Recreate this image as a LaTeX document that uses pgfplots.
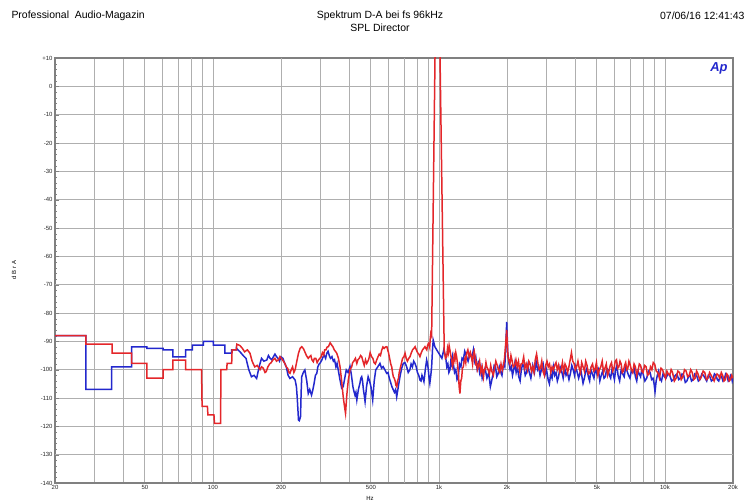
\documentclass[border=0pt]{standalone}
\usepackage{fontspec}
\setmainfont{Liberation Sans}
\usepackage{pgfplots}
\pgfplotsset{compat=1.18}
\definecolor{apred}{RGB}{228,38,42}
\definecolor{apblue}{RGB}{35,40,205}
\definecolor{gridgray}{RGB}{175,175,175}
\definecolor{darkgrid}{RGB}{85,85,85}
\begin{document}
\begin{tikzpicture}
\path[use as bounding box] (-55bp,-20bp) rectangle (694bp,483bp);
\begin{axis}[at={(0,0)}, anchor=south west, scale only axis,
 width=678bp, height=425bp,
 xmode=log, xmin=20, xmax=20000, ymin=-140, ymax=10,
 xtick={20,50,100,200,500,1000,2000,5000,10000,20000},
 xticklabels={20,50,100,200,500,1k,2k,5k,10k,20k},
 minor xtick={30,40,60,70,80,90,300,400,600,700,800,900,3000,4000,6000,7000,8000,9000},
 ytick={-140,-130,...,10},
 yticklabels={-140,-130,-120,-110,-100,-90,-80,-70,-60,-50,-40,-30,-20,-10,0,+10},
 minor y tick num=4,
 xmajorgrids=true, xminorgrids=true, ymajorgrids=true,
 major grid style={gridgray, line width=0.9bp},
 minor grid style={gridgray, line width=0.9bp},
 extra x ticks={80,200,700,4000,7000},
 extra x tick labels={},
 extra x tick style={grid style={darkgrid, line width=1bp}},
 extra y ticks={-130,-70,-50},
 extra y tick labels={},
 extra y tick style={grid style={darkgrid, line width=1bp}},
 axis line style={draw=gray, line width=1.4bp},
 xtick style={draw=none},
 ytick style={draw=gray},
 ytick pos=left,
 tick align=inside,
 major tick length=4bp, minor tick length=2bp,
 tick label style={font=\fontsize{6}{7}\selectfont, color=black!85},
 xticklabel style={yshift=1bp},
 yticklabel style={xshift=1bp},
 /pgf/number format/assume math mode=true,
 clip=true,
]
\addplot[apblue, line width=1.5bp] coordinates {
(20,-88) (27.4,-88) (27.4,-107) (35.6,-107) (35.6,-99) (43.7,-99) (43.7,-92) (51,-92) (51,-92.5) (60.2,-92.5) (60.2,-93) (66.5,-93) (66.5,-95.5) (75.7,-95.5) (75.7,-93) (81,-93) (81,-91.3) (90.6,-91.3) (90.6,-90) (100.5,-90) (100.5,-91.3) (113,-91.3) (113,-94.2) (121,-94.2) (121,-93) (127,-93) (127,-92.5)
(131.7,-93.7) (136,-95) (140,-96) (144,-100) (148,-102.5) (152,-102) (156,-103.1) (160,-99) (164,-96) (168,-97) (173,-96.6) (176,-95) (179,-96) (182,-96.5) (185,-95.5) (188,-94.5) (191,-95.4) (194,-96) (197,-97) (200,-95.5) (204,-96) (207,-97.5) (211,-99) (215,-102) (219,-103.1) (225,-102.5) (231,-103.7) (234,-106) (236,-110) (239,-117.8) (241,-118) (244,-116.6) (245.5,-108) (247,-102.5) (251,-101) (255,-100.1) (260,-104) (264,-108.4) (268,-107) (273,-109) (276,-107.5) (280,-105) (284,-102) (288,-101.3) (291,-99) (295,-98) (299,-97.5) (303,-96.6) (307,-95.5) (311,-95) (315,-96) (319,-94.2) (323,-93.5) (327,-95) (331,-96) (336,-95.4) (341,-97) (345,-96.5) (350,-99) (354,-97.8) (360,-101) (365,-103.7) (371,-106.5) (377,-106) (383,-103) (389,-100.1) (396,-101) (404,-98.9) (410,-102) (416,-106) (420,-107.5) (425,-109) (429,-108) (433,-110.7) (440,-107) (447,-104.8) (451,-103) (455,-102.5) (459,-104) (463,-107) (467,-109) (471,-111.3) (478,-106) (486,-102.5) (493,-104) (500,-106) (505,-108.5) (509,-110.7) (517,-104) (525,-100.1) (536,-99) (548,-97.8) (557,-99.5) (566,-98.9) (576,-100) (587,-101.3) (595,-101) (603,-103) (611,-104.5) (619,-106) (627,-107) (635,-108) (643,-107) (650,-109.6) (661,-106) (672,-102.5) (684,-99.5) (695,-97.8) (707,-97.5) (719,-98.9) (731,-101) (743,-100.1) (753,-98) (763,-99) (773,-97) (783,-97.8) (793,-99) (803,-101) (814,-102) (824,-103.7) (833,-104) (841,-102) (850,-103) (858,-104.2) (870,-100) (882,-96.6) (890,-98) (897,-100) (904,-103) (911,-104.8) (920,-102) (928,-99) (936,-93) (943,-89.6) (960,-92)
(1030,-96) (1050,-93) (1070,-95.4) (1083,-99) (1095,-98) (1106,-101) (1118,-100.1) (1128,-97) (1137,-98) (1147,-95.5) (1157,-97.8) (1172,-101) (1187,-100) (1202,-103.5) (1217,-102.5) (1233,-98) (1250,-99) (1265,-96) (1281,-96.6) (1300,-93.5) (1320,-95) (1345,-97) (1373,-94.2) (1396,-96) (1420,-93) (1437,-97) (1455,-95.5) (1474,-99.5) (1493,-97.8) (1513,-101) (1533,-99) (1553,-103) (1574,-101.3) (1600,-99.5) (1630,-103) (1660,-101) (1688,-106) (1710,-104) (1730,-102) (1755,-98.5) (1779,-99) (1802,-102.5) (1826,-101.5) (1850,-99) (1875,-100.7) (1900,-102) (1930,-98) (1955,-99) (1975,-92) (1994,-83.1) (2008,-90) (2015,-94) (2041,-97.8) (2065,-100) (2090,-99) (2115,-102) (2140,-100.1) (2167,-97.5) (2195,-101) (2225,-99) (2254,-102.5) (2285,-104) (2315,-100) (2345,-98) (2377,-99) (2408,-102) (2440,-101) (2472,-98.5) (2505,-100.7) (2550,-103) (2600,-98.5) (2645,-101) (2692,-97.2) (2730,-100) (2765,-99) (2800,-102) (2838,-100.1) (2890,-98) (2940,-102) (2990,-100) (3044,-103.7) (3080,-105) (3120,-101.5) (3165,-103) (3208,-99) (3250,-102) (3295,-101) (3340,-104) (3382,-102.5) (3435,-99) (3490,-100.5) (3545,-103) (3600,-99.5) (3650,-102) (3700,-101) (3760,-103.5) (3818,-101.3) (3870,-98.5) (3925,-100) (3980,-102) (4031,-99) (4090,-101) (4150,-103) (4240,-100) (4340,-104.8) (4400,-103) (4450,-101) (4515,-99.5) (4580,-102.5) (4640,-104) (4700,-100) (4775,-101.5) (4850,-103) (4925,-99.5) (5000,-101.5) (5075,-100) (5150,-104) (5225,-102) (5300,-100.5) (5375,-103) (5450,-102.5) (5525,-99.5) (5600,-100) (5675,-102) (5750,-103) (5825,-100) (5900,-101.5) (5975,-103.5) (6050,-100) (6125,-98.5) (6200,-102) (6300,-104) (6400,-100) (6500,-101.5) (6600,-102.5) (6700,-99) (6800,-100.5) (6900,-102) (7000,-103) (7100,-100.5) (7200,-101) (7300,-99.5) (7400,-102.5) (7500,-104) (7600,-100.5) (7700,-101.5) (7800,-102.5) (7900,-100) (8000,-101.5) (8150,-104) (8300,-103) (8450,-100.5) (8600,-101) (8725,-103.5) (8850,-103) (8950,-105) (9036,-107.8) (9140,-104) (9250,-102) (9375,-100.5) (9500,-103) (9650,-104) (9800,-101.5) (9950,-102.5) (10100,-103) (10300,-101.5) (10500,-102) (10700,-104) (10900,-103.5) (11100,-102) (11300,-101.5) (11500,-103.5) (11700,-103) (11900,-101.5) (12100,-102) (12300,-104.5) (12500,-104) (12700,-102.5) (12900,-102) (13100,-104) (13300,-103.5) (13550,-101.5) (13800,-102) (14050,-104) (14300,-103.5) (14550,-101.5) (14800,-102) (15050,-103) (15300,-104) (15550,-102) (15800,-102.5) (16050,-104) (16300,-103.5) (16550,-101.5) (16800,-102) (17050,-103.5) (17300,-104) (17550,-102) (17800,-102.5) (18050,-104) (18300,-103.5) (18550,-101.5) (18800,-102) (19050,-104) (19300,-103.5) (19500,-102) (19700,-102.5) (19850,-104) (20000,-103)
};
\addplot[apred, line width=1.5bp] coordinates {
(20,-88) (27.4,-88) (27.4,-91) (35.8,-91) (35.8,-94.2) (43.7,-94.2) (43.7,-97.8) (51,-97.8) (51,-103) (60.2,-103) (60.2,-100) (66.5,-100) (66.5,-96.6) (75.7,-96.6) (75.7,-100) (89,-100) (89.5,-113) (94.5,-113) (95,-116) (101,-116) (101.5,-119) (108,-119) (108.5,-100) (115,-100) (115.5,-97.8) (121,-97.8) (121.5,-93) (127,-93) (127.5,-91)
(131.7,-91.5) (135,-92.5) (138,-93.7) (142,-93) (145.8,-94.2) (149,-97) (153,-99) (157,-98.5) (161.5,-100) (164,-99) (167,-99.5) (170,-101) (172,-100.7) (175,-99) (178,-98) (181,-97.5) (184,-96.6) (188,-96) (191,-97) (195,-96.5) (198,-95.4) (203,-96.5) (208,-97.8) (211,-99) (214,-99.5) (217,-101) (219,-101.3) (222,-100) (225,-99) (228,-101) (231,-100) (235,-97) (239,-94.2) (243,-92.5) (247,-91.9) (251,-92.5) (255,-93.7) (259,-95) (264,-96) (267,-95.5) (271,-95) (274,-96.5) (278,-97.2) (281,-96) (285,-96) (289,-97.5) (293,-96.6) (297,-96) (301,-95.5) (305,-94) (309,-94.8) (312,-93) (316,-93) (320,-92) (324,-91.9) (330,-90.5) (335,-91.3) (340,-92) (344,-93) (348,-93.5) (353,-94.2) (359,-96) (365,-99) (371,-104) (377,-109.6) (382,-113) (386,-115.4) (391,-109) (397,-103.7) (404,-100) (411,-99) (415,-97.5) (420,-97) (427,-96) (433,-97.8) (438,-96.5) (444,-96) (450,-95) (455,-95.4) (461,-97) (467,-98.5) (473,-96.5) (479,-97.8) (485,-97) (490,-96) (496,-94) (503,-95.4) (510,-96) (516,-97.5) (523,-98) (530,-96.6) (537,-95.5) (544,-94.5) (551,-95) (558,-93.1) (565,-92) (572,-92.5) (580,-92) (588,-91.9) (593,-93) (598,-94) (603,-95.5) (607,-96.6) (612,-98) (618,-99) (623,-101) (628,-102.5) (634,-103) (640,-104) (645,-105.5) (651,-106) (656,-104) (662,-103) (667,-101) (672,-100) (681,-98) (690,-96) (699,-95.5) (708,-94.2) (716,-96) (725,-97) (735,-96) (745,-95.4) (755,-94) (764,-93) (774,-92.5) (784,-91.9) (794,-93) (804,-94) (814,-94.5) (824,-95.4) (835,-94) (846,-93) (856,-92.5) (867,-91.9) (875,-92.5) (883,-93) (890,-91.5) (898,-90.7) (904,-91) (910,-92) (915,-89) (920,-87.2) (928,-88)
(961,12) (1010,12)
(1055,-93) (1068,-96) (1082,-95.4) (1091,-92.5) (1100,-94) (1109,-91.5) (1118,-93.1) (1128,-95) (1137,-96) (1147,-99) (1157,-97.8) (1167,-95) (1177,-96.5) (1187,-94) (1197,-95.4) (1208,-98) (1218,-101) (1228,-106) (1238,-108.4) (1249,-104) (1260,-103) (1270,-99.5) (1281,-99) (1292,-97) (1303,-96) (1314,-97.5) (1325,-94.2) (1342,-93) (1360,-95.5) (1378,-94) (1396,-96) (1408,-98) (1420,-94.5) (1432,-93.5) (1444,-95.4) (1456,-98) (1468,-97.5) (1480,-100) (1493,-99) (1513,-97) (1533,-101) (1553,-99) (1574,-102.5) (1587,-100) (1600,-100) (1614,-97.5) (1628,-99) (1650,-100) (1672,-101.5) (1694,-98.5) (1716,-100.7) (1740,-102) (1762,-99.5) (1785,-97) (1809,-98.4) (1833,-100) (1858,-101) (1882,-98) (1907,-100.1) (1930,-98.5) (1950,-96) (1974,-90.7) (1994,-86) (2008,-92) (2021,-95.4) (2040,-97) (2060,-98) (2082,-95) (2104,-96.6) (2130,-99) (2160,-98.5) (2190,-96.5) (2218,-99) (2248,-97) (2278,-100.5) (2308,-98) (2338,-97.8) (2370,-95.5) (2400,-99.5) (2432,-98) (2465,-100.1) (2497,-97) (2530,-98) (2565,-100.5) (2597,-99) (2632,-101) (2667,-96.5) (2703,-94.5) (2740,-97.8) (2776,-100) (2813,-99.5) (2850,-97) (2888,-100.7) (2927,-102) (2965,-98.5) (3005,-97) (3044,-99) (3085,-98) (3125,-101) (3165,-99) (3208,-100.1) (3250,-98.5) (3294,-97.5) (3338,-100) (3382,-98.4) (3427,-101) (3472,-100) (3518,-97.5) (3564,-100.7) (3612,-98) (3660,-99) (3708,-101) (3757,-99) (3807,-96.5) (3857,-94) (3908,-97) (3960,-97.8) (4012,-100) (4065,-99) (4120,-97) (4174,-99.5) (4228,-101) (4280,-97.5) (4340,-99) (4400,-100.5) (4460,-97) (4520,-98.5) (4585,-101.5) (4650,-101) (4715,-99) (4780,-98) (4840,-100.5) (4900,-100) (4975,-97.5) (5050,-102) (5125,-100) (5200,-99) (5275,-97) (5350,-101) (5425,-99.5) (5500,-98) (5575,-102) (5650,-100.5) (5725,-98.5) (5800,-97.5) (5875,-100.5) (5950,-99.5) (6025,-97) (6100,-96.5) (6175,-99.5) (6250,-99) (6325,-97) (6400,-98) (6475,-101) (6550,-100.5) (6625,-98.5) (6700,-97.5) (6775,-100) (6850,-99.5) (6925,-97) (7000,-98) (7100,-100) (7200,-101) (7300,-98) (7400,-99) (7500,-102) (7600,-100.5) (7700,-98) (7800,-98.5) (7900,-100.5) (8000,-101) (8125,-98.5) (8250,-99) (8375,-102) (8500,-101.5) (8625,-99) (8750,-100) (8875,-97.5) (9000,-98) (9150,-100.5) (9300,-101) (9450,-103) (9600,-99.5) (9750,-100) (9900,-101.5) (10050,-103) (10200,-100.5) (10350,-101.5) (10500,-102) (10650,-100) (10800,-101) (11000,-104) (11200,-103) (11400,-100.5) (11600,-101) (11800,-103.5) (12000,-102.5) (12200,-100) (12400,-100.5) (12600,-102.5) (12800,-102) (13000,-100) (13200,-101) (13400,-103.5) (13600,-103) (13800,-100.5) (14000,-101.5) (14250,-103.5) (14500,-102.5) (14750,-100.5) (15000,-101) (15250,-103.5) (15500,-103) (15750,-101) (16000,-102) (16250,-103) (16500,-104) (16750,-102.5) (17000,-101.5) (17250,-102) (17500,-103) (17750,-101) (18000,-102) (18250,-104) (18500,-103.5) (18750,-101.5) (19000,-102) (19250,-104) (19500,-103.5) (19750,-102) (20000,-103)
};
\end{axis}
\node[anchor=west, font=\fontsize{10.5}{12}\selectfont] at (-47bp,467bp) {Professional\ \ Audio-Magazin};
\node[font=\fontsize{10.5}{12}\selectfont] at (325bp,467bp) {Spektrum D-A bei fs 96kHz};
\node[font=\fontsize{10.5}{12}\selectfont] at (325bp,455bp) {SPL Director};
\node[anchor=east, font=\fontsize{10.5}{12}\selectfont] at (693bp,467bp) {07/06/16 12:41:43};
\node[rotate=90, font=\fontsize{6}{7}\selectfont] at (-41bp,213bp) {d B r A};
\node[font=\fontsize{6}{7}\selectfont] at (315bp,-15bp) {Hz};
\node[font=\fontsize{13}{13}\bfseries\itshape, text=apblue] at (664bp,415bp) {Ap};
\end{tikzpicture}
\end{document}
